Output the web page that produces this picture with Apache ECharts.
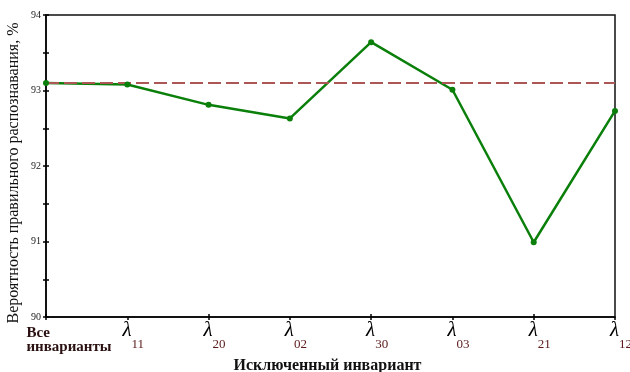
<!DOCTYPE html>
<html>
<head>
<meta charset="utf-8">
<script src="https://cdn.jsdelivr.net/npm/echarts@6/dist/echarts.min.js"></script>
<style>html,body{margin:0;padding:0;background:#fff}#c{width:630px;height:372px}</style>
</head>
<body>
<div id="c"></div>
<script>
const categories = ['Все инварианты', 'λ11', 'λ20', 'λ02', 'λ30', 'λ03', 'λ21', 'λ12'];
const recognition = [93.10, 93.08, 92.81, 92.63, 93.64, 93.01, 90.99, 92.73];
const baseline = [93.1, 93.1, 93.1, 93.1, 93.1, 93.1, 93.1, 93.1];
const yTicks = { min: 90, max: 94, step: 0.5 };
const yName = 'Вероятность правильного распознавания, %';
const xName = 'Исключенный инвариант';

const serif = '"Liberation Serif", "DejaVu Serif", serif';
const chart = echarts.init(document.getElementById('c'));

function xLabel(v, i) {
  if (v.charAt(0) === 'λ') {
    return '{sp| }{l|λ}{s|' + v.slice(1) + '}';
  }
  const parts = v.split(' ');
  return '{a1|' + parts[0] + '}\n{a|' + parts[1] + '}';
}

chart.setOption({
  animation: false,
  backgroundColor: '#fff',
  grid: { left: 46, right: 15, top: 15, bottom: 55, containLabel: false, outerBoundsMode: 'none',
          show: true, borderColor: '#111', borderWidth: 1.5 },
  xAxis: [{
    type: 'category', data: categories, boundaryGap: false,
    axisLine: { lineStyle: { color: '#000', width: 1.5 } },
    axisTick: { show: true, length: 3, lineStyle: { color: '#000', width: 1.5 } },
    axisLabel: {
      margin: 3, interval: 0, formatter: xLabel, hideOverlap: false,
      rich: {
        sp: { width: 12, fontSize: 12 },
        l: { fontFamily: serif, fontSize: 21, fontStyle: 'italic', color: '#000', verticalAlign: 'top', lineHeight: 20 },
        s: { fontFamily: serif, fontSize: 13, color: '#5a1818', verticalAlign: 'top', padding: [18, 0, 0, 0], lineHeight: 14 },
        a1: { fontFamily: serif, fontSize: 15, fontWeight: 'bold', color: '#2a1010', align: 'left', padding: [8, 0, 0, 46], lineHeight: 18 },
        a: { fontFamily: serif, fontSize: 15, fontWeight: 'bold', color: '#2a1010', align: 'left', padding: [0, 0, 0, 46], lineHeight: 18 }
      }
    },
    name: xName, nameLocation: 'middle', nameGap: 41, nameMoveOverlap: false,
    nameTextStyle: { fontFamily: serif, fontSize: 16, fontWeight: 'bold', color: '#111', padding: [0, 6, 0, 0] },
    splitLine: { show: false }
  }, {
    type: 'category', data: categories, boundaryGap: false, position: 'bottom',
    axisLine: { show: false },
    axisTick: { show: true, inside: true, length: 3, lineStyle: { color: '#000', width: 1.5 } },
    axisLabel: { show: false }, splitLine: { show: false }
  }],
  yAxis: [{
    type: 'value', min: yTicks.min, max: yTicks.max, interval: yTicks.step,
    axisLine: { show: true, lineStyle: { color: '#000', width: 1.5 } },
    axisTick: { show: true, length: 3, lineStyle: { color: '#000', width: 1.5 } },
    axisLabel: {
      margin: 5, fontFamily: serif, fontSize: 10, color: '#222',
      formatter: v => (Math.abs(v - Math.round(v)) < 1e-9 ? String(Math.round(v)) : '')
    },
    splitLine: { show: false },
    name: yName, nameLocation: 'middle', nameGap: 24, nameMoveOverlap: false,
    nameTextStyle: { fontFamily: serif, fontSize: 16, color: '#111', padding: [0, 14, 0, 0] }
  }, {
    type: 'value', min: yTicks.min, max: yTicks.max, interval: yTicks.step, position: 'left',
    axisLine: { show: false },
    axisTick: { show: true, inside: true, length: 3, lineStyle: { color: '#000', width: 1.5 } },
    axisLabel: { show: false }, splitLine: { show: false }
  }],
  series: [{
    type: 'line', data: recognition, xAxisIndex: 0, yAxisIndex: 0,
    symbol: 'circle', symbolSize: 6,
    lineStyle: { color: '#0a7f0a', width: 2.5 },
    itemStyle: { color: '#0a7f0a' }
  }, {
    type: 'line', data: baseline, xAxisIndex: 0, yAxisIndex: 0,
    symbol: 'none',
    lineStyle: { color: '#ad5656', width: 2, type: [13, 5] }
  }]
});
</script>
</body>
</html>
